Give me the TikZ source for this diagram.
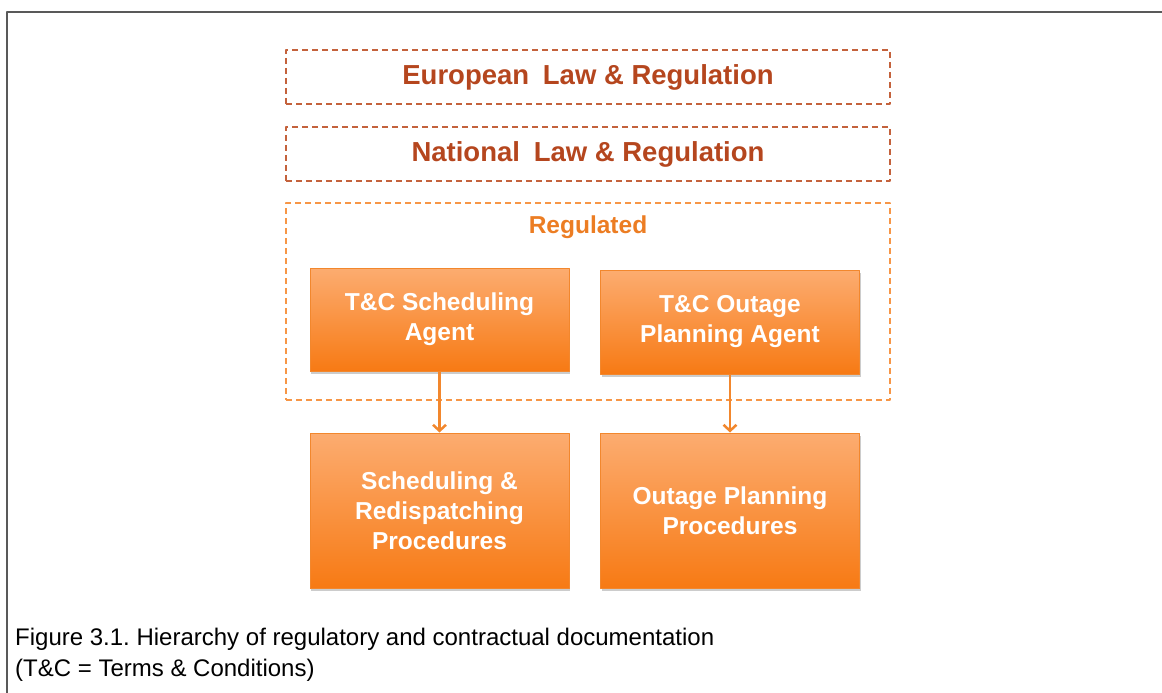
\documentclass[tikz,border=0pt]{standalone}
\usepackage{fontspec}
\setmainfont{Liberation Sans}
\usetikzlibrary{shadows, arrows.meta}
\definecolor{lawred}{RGB}{181,70,30}
\definecolor{lawdash}{RGB}{196,98,60}
\definecolor{regdash}{RGB}{247,150,70}
\definecolor{regtext}{RGB}{236,125,35}
\definecolor{boxtop}{RGB}{252,172,112}
\definecolor{boxbot}{RGB}{247,122,20}
\definecolor{boxline}{RGB}{242,135,45}
\definecolor{framegray}{RGB}{89,89,89}
\tikzset{>=latex}
\tikzset{
  lawbox/.style={draw=lawdash, line width=1.3pt, dash pattern=on 6pt off 4pt,
    minimum width=604pt, minimum height=54pt, inner sep=0pt, text=lawred,
    font=\fontsize{27.5}{30}\selectfont\bfseries},
  regbox/.style={draw=regdash, line width=1.3pt, dash pattern=on 6pt off 4pt,
    minimum width=604pt, minimum height=197pt, inner sep=0pt},
  tcbox/.style={draw=boxline, line width=1pt, top color=boxtop, bottom color=boxbot,
    drop shadow={shadow xshift=1pt, shadow yshift=-3pt, opacity=0.4},
    minimum width=259pt, inner sep=0pt, align=center, text=white,
    font=\fontsize{24.5}{30}\selectfont\bfseries},
  flow/.style={-{Straight Barb[length=6pt, width=13pt, line width=2.5pt]}, draw=boxline, line width=2.8pt},
}

\begin{document}
\frenchspacing
\begin{tikzpicture}[x=1pt, y=-1pt, line join=round]
    \useasboundingbox (0,0) rectangle (1162,693);
    \draw[framegray, line width=2pt] (7,693) -- (7,12) -- (1162,12);

    \node[lawbox] (european) at (588,77) {European\enspace Law \& Regulation};
    \node[lawbox] (national) at (588,154) {National\enspace Law \& Regulation};

    \node[regbox] (regulated) at (588,301.5) {};
    \node[text=regtext, font=\fontsize{24.5}{30}\selectfont\bfseries] (reglabel) at (588,227) {Regulated};

    \node[tcbox, minimum height=103pt] (tcsched) at (439.5,319.5) {T\&C Scheduling\\Agent};
    \node[tcbox, minimum height=104pt] (tcoutage) at (730,322) {T\&C Outage\\Planning Agent};

    \node[tcbox, minimum height=155pt] (procsched) at (439.5,510.5) {Scheduling \&\\Redispatching\\Procedures};
    \node[tcbox, minimum height=155pt] (procoutage) at (730,510.5) {Outage Planning\\Procedures};

    \draw[flow] (tcsched.south) -- (procsched.north);
    \draw[flow] (tcoutage.south) -- (procoutage.north);

    \node[anchor=base west, inner sep=0pt, font=\fontsize{24}{30}\selectfont] (caption1) at (15,645) {Figure 3.1. Hierarchy of regulatory and contractual documentation};
    \node[anchor=base west, inner sep=0pt, font=\fontsize{24}{30}\selectfont] (caption2) at (15,676) {(T\&C = Terms \& Conditions)};
\end{tikzpicture}
\end{document}
